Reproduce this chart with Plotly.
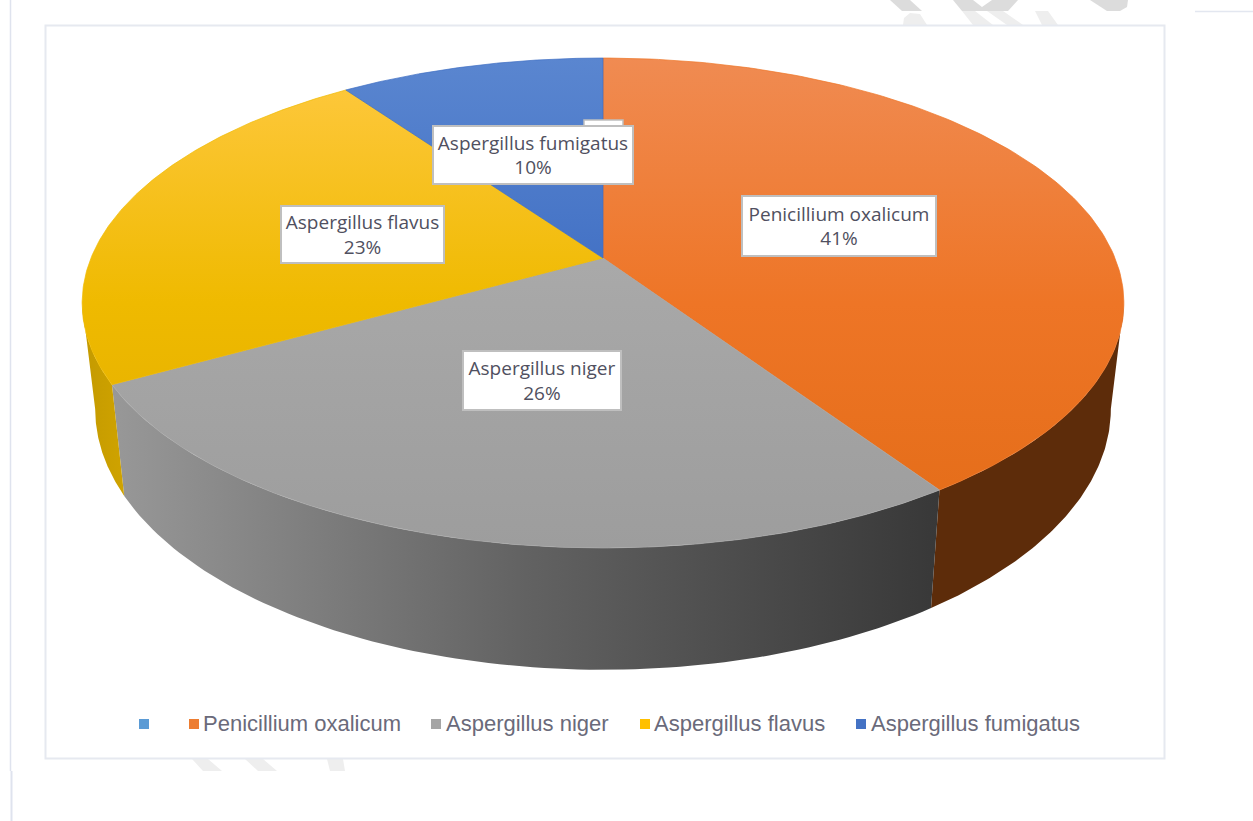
import numpy as np
import plotly.graph_objects as go

# ---------- data ----------
categories = ["", "Penicillium oxalicum", "Aspergillus niger", "Aspergillus flavus", "Aspergillus fumigatus"]
values = [0.0, 40.6, 26.3, 23.3, 9.8]
marker_colors = ["#5b9bd5", "#ed7d31", "#a5a5a5", "#ffc000", "#4472c4"]
top_colors = [
    ["#5b9bd5", "#5b9bd5", "#5b9bd5"],
    ["#f08b52", "#ee7526", "#e36c17"],
    ["#b4b4b4", "#a7a7a7", "#9d9d9d"],
    ["#ffc942", "#efba00", "#dfab00"],
    ["#5a86d0", "#3f6ec3", "#2f62bb"],
]
side_colors = [
    ["#5b9bd5", "#5b9bd5"],
    ["#5d2c0a", "#5d2c0a"],
    ["#989898", "#626262", "#383838"],
    ["#c49a00", "#cfa300"],
    ["#2f62bb", "#2f62bb"],
]
# label box centres and sizes (layout only), one per non-empty category
label_box = {
    "Penicillium oxalicum": (839, 226, 196, 62),
    "Aspergillus niger": (542, 380.5, 160, 61),
    "Aspergillus flavus": (362.5, 234.5, 165, 59),
    "Aspergillus fumigatus": (533, 155, 202, 60),
}
legend_marker_x = [144, 194, 436, 645, 861]
legend_text_x = [153, 203, 446, 654, 871]
legend_y = 724

# ---------- projection of the tilted disc ----------
cx, cy = 603, 258
persp = 0.1837
ax_y = 236.7
ax_x = 512
base_dy, base_sx, base_sy = 361, 0.975, 1.065


def rim(theta):
    u, v = np.sin(theta), np.cos(theta)
    d = 1 + persp * v
    return u * ax_x / d, -v * ax_y / d


def top_rim(theta):
    x, y = rim(theta)
    return cx + x, cy + y


def bottom_rim(theta):
    x, y = rim(theta)
    return cx + x * base_sx, base_dy + y * base_sy


def scale(cols):
    n = len(cols) - 1
    return [[i / n, c] for i, c in enumerate(cols)]


fig = go.Figure()
edges = np.cumsum([0] + values) / sum(values) * 2 * np.pi
sil_right = np.pi / 2 + np.arcsin(persp)
sil_left = 2 * np.pi - sil_right

# side walls
for i, cat in enumerate(categories):
    a = max(edges[i], sil_right)
    b = min(edges[i + 1], sil_left)
    if b <= a:
        continue
    th = np.linspace(a, b, 90)
    tx, ty = top_rim(th)
    bx, by = bottom_rim(th[::-1])
    xs = np.r_[tx, bx, tx[0]]
    ys = np.r_[ty, by, ty[0]]
    fig.add_trace(go.Scatter(
        x=xs, y=ys, mode="lines", fill="toself", line=dict(width=0),
        fillgradient=dict(type="horizontal", colorscale=scale(side_colors[i]),
                          start=float(xs.min()), stop=float(xs.max())),
        hoverinfo="skip", showlegend=False))

# top faces
for i, cat in enumerate(categories):
    if values[i] <= 0:
        continue
    th = np.linspace(edges[i], edges[i + 1], 160)
    tx, ty = top_rim(th)
    xs = np.r_[cx, tx, cx]
    ys = np.r_[cy, ty, cy]
    fig.add_trace(go.Scatter(
        x=xs, y=ys, mode="lines", fill="toself", line=dict(width=0.7, color=top_colors[i][1]),
        fillgradient=dict(type="vertical", colorscale=scale(top_colors[i]), start=58, stop=548),
        name=cat, hoverinfo="name", showlegend=False))

# legend row
for name, col, mx, tx_ in zip(categories, marker_colors, legend_marker_x, legend_text_x):
    fig.add_trace(go.Scatter(
        x=[mx], y=[legend_y], mode="markers",
        marker=dict(symbol="square", size=10, color=col),
        hoverinfo="skip", showlegend=False))
    fig.add_trace(go.Scatter(
        x=[tx_], y=[legend_y + 1], mode="text", text=[name], textposition="middle right",
        textfont=dict(family="Liberation Sans", size=22, color="#6a6a7a"),
        hoverinfo="skip", showlegend=False))

# data labels
total = sum(values)
annotations = []
for name, val in zip(categories, values):
    if name not in label_box:
        continue
    bx0, by0, w, h = label_box[name]
    annotations.append(dict(
        x=bx0, y=by0, xref="x", yref="y", showarrow=False,
        text=f"{name}<br>{round(val / total * 100)}%",
        width=w - 4, height=h - 4, align="center", valign="middle",
        bgcolor="white", bordercolor="#bfbfbf", borderwidth=2, borderpad=0,
        font=dict(family="Open Sans", size=19, color="#505060"),
    ))

wm_dark = "#dcdcdc"
wm_light = "#eeeeee"


def poly(pts, color):
    path = "M " + " L ".join(f"{x},{y}" for x, y in pts) + " Z"
    return dict(type="path", path=path, xref="x", yref="y", fillcolor=color, line=dict(width=0), layer="below")


shapes = [
    # document watermark fragments
    poly([(890, 0), (910, 0), (922, 11), (902, 11)], wm_dark),
    poly([(953, 0), (973, 0), (982, 7), (992, 0), (1018, 0), (1008, 11), (962, 11)], wm_dark),
    poly([(1090, 0), (1128, 0), (1127, 7), (1120, 11), (1107, 11)], wm_dark),
    poly([(910, 13), (920, 14), (927, 25), (903, 25), (904, 18)], wm_light),
    poly([(962, 11), (975, 11), (993, 25), (973, 25)], wm_light),
    poly([(987, 11), (1003, 11), (1023, 25), (1007, 25)], wm_light),
    poly([(1035, 11), (1048, 11), (1058, 25), (1042, 25)], wm_light),
    poly([(192, 759), (208, 759), (222, 771), (203, 771)], wm_light),
    poly([(245, 759), (263, 759), (277, 771), (258, 771)], wm_light),
    poly([(327, 759), (343, 759), (345, 771), (330, 771)], wm_light),
    # page rules
    dict(type="line", x0=10.5, x1=10.5, y0=0, y1=771, xref="x", yref="y", line=dict(color="#dfe3ee", width=1.5), layer="below"),
    dict(type="line", x0=11.5, x1=11.5, y0=771, y1=821, xref="x", yref="y", line=dict(color="#dfe3ee", width=2), layer="below"),
    dict(type="line", x0=1195, x1=1253, y0=11.5, y1=11.5, xref="x", yref="y", line=dict(color="#e3e7f0", width=1.5), layer="below"),
    # chart frame
    dict(type="rect", x0=45.5, x1=1164.5, y0=25.5, y1=758.5, xref="x", yref="y",
         fillcolor="white", line=dict(color="#e6e9f0", width=2), layer="below"),
    # empty data label box behind the fumigatus label
    dict(type="rect", x0=584, x1=623, y0=120, y1=128, xref="x", yref="y",
         fillcolor="white", line=dict(color="#bfbfbf", width=1.5), layer="above"),
]

fig.update_layout(
    width=1253, height=821, margin=dict(l=0, r=0, t=0, b=0),
    paper_bgcolor="white", plot_bgcolor="white", showlegend=False,
    xaxis=dict(range=[0, 1253], visible=False, fixedrange=True),
    yaxis=dict(range=[821, 0], visible=False, fixedrange=True),
    annotations=annotations, shapes=shapes,
)
fig.write_html("out.html", config={"displayModeBar": False},
               post_script="document.body.style.margin='0';")
